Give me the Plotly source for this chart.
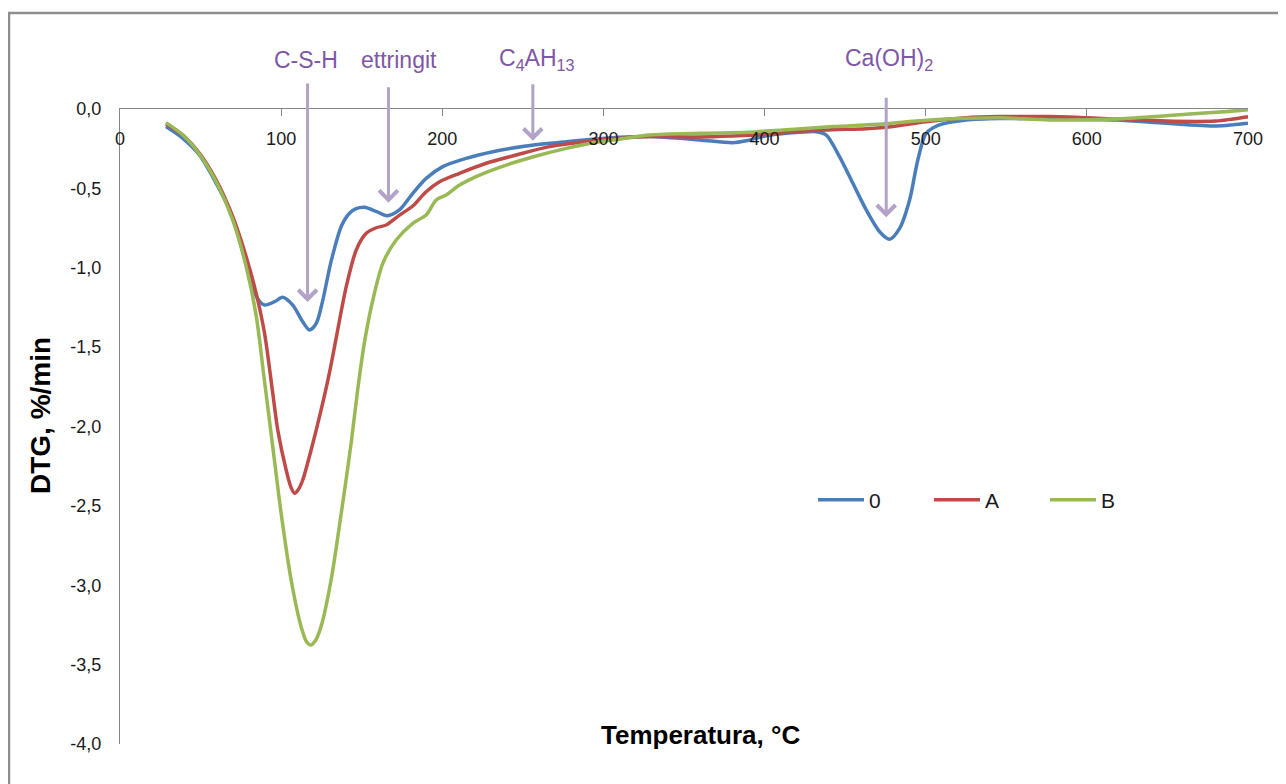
import plotly.graph_objects as go

# ---------------- data ----------------
t_0 = [28.5, 39, 49.3, 59.7, 68, 74.2, 80.4, 84.5, 89.7, 95.9, 101, 107.2, 113.4, 117.6, 121.8, 125.5,
       131, 137.3, 142.4, 146.5, 151.7, 159, 165.6, 173.4, 181.7, 190, 200.3, 214.8, 231.4, 252, 276.9,
       293.4, 310, 328.6, 359.6, 380.3, 388.6, 401, 421.7, 432, 438.3, 446.5, 454.8, 463.1, 471.4, 477.6,
       483.8, 490, 495.1, 500.3, 508.5, 525, 545.8, 576.8, 618.2, 649.2, 680.3, 690.6, 700]
v_0 = [-0.111, -0.185, -0.29, -0.468, -0.636, -0.825, -1.056, -1.18, -1.235, -1.214, -1.186, -1.235, -1.34,
       -1.392, -1.35, -1.22, -0.96, -0.74, -0.657, -0.628, -0.619, -0.645, -0.672, -0.636, -0.531, -0.437,
       -0.363, -0.311, -0.269, -0.233, -0.206, -0.191, -0.178, -0.174, -0.195, -0.212, -0.2, -0.168, -0.147,
       -0.143, -0.164, -0.3, -0.468, -0.636, -0.773, -0.82, -0.752, -0.573, -0.321, -0.153, -0.1, -0.069,
       -0.06, -0.063, -0.069, -0.09, -0.107, -0.1, -0.09]

t_A = [28.5, 39, 49.3, 59.7, 70, 78.3, 84.5, 89.7, 94.8, 97.9, 103.1, 106, 108.3, 110.5, 113.4, 118.6,
       123.8, 130, 134.2, 140.4, 146.6, 152.8, 159, 165.2, 173.5, 181.7, 190, 198.3, 210.7, 227.3, 245.9,
       266.5, 293.4, 310, 328.6, 359.6, 380, 401, 421.7, 442, 463, 480, 500, 525, 545.8, 577, 618, 649,
       680, 690.6, 700]
v_A = [-0.094, -0.164, -0.279, -0.447, -0.678, -0.93, -1.161, -1.413, -1.79, -2.022, -2.274, -2.38, -2.42,
       -2.4, -2.337, -2.148, -1.938, -1.66, -1.44, -1.119, -0.888, -0.783, -0.748, -0.731, -0.668, -0.611,
       -0.521, -0.458, -0.405, -0.342, -0.29, -0.237, -0.2, -0.185, -0.174, -0.176, -0.17, -0.16, -0.14,
       -0.13, -0.124, -0.11, -0.08, -0.055, -0.048, -0.048, -0.063, -0.076, -0.076, -0.063, -0.048]

t_B = [28.5, 39, 49.3, 59.7, 70, 78.3, 84.5, 89.5, 94.8, 100, 106.2, 112.4, 116, 118.6, 121.5, 124.9, 131,
       137.3, 143.5, 147.6, 151.7, 156.9, 163.1, 171.4, 181.7, 190, 196.2, 202.4, 210.7, 223.1, 239.7,
       258.3, 276.9, 293.4, 310, 328.6, 359.6, 390, 411.3, 442.3, 473.4, 494, 525, 546, 577, 618, 649,
       680, 700]
v_B = [-0.086, -0.164, -0.285, -0.458, -0.7, -0.993, -1.3, -1.7, -2.127, -2.547, -2.967, -3.261, -3.36,
       -3.376, -3.345, -3.255, -2.967, -2.547, -2.1, -1.76, -1.47, -1.203, -0.972, -0.825, -0.72, -0.668,
       -0.573, -0.542, -0.479, -0.416, -0.353, -0.296, -0.248, -0.212, -0.19, -0.164, -0.153, -0.147,
       -0.132, -0.111, -0.094, -0.076, -0.059, -0.055, -0.069, -0.063, -0.042, -0.021, -0.004]

series_names = ["0", "A", "B"]
series_colors = ["#4A7EBB", "#BE4B48", "#98B954"]

x_ticks = [0, 100, 200, 300, 400, 500, 600, 700]
y_ticks = [0.0, -0.5, -1.0, -1.5, -2.0, -2.5, -3.0, -3.5, -4.0]
y_tick_text = ["0,0", "-0,5", "-1,0", "-1,5", "-2,0", "-2,5", "-3,0", "-3,5", "-4,0"]

# annotation arrows: label, x of arrow, y of arrow tip, tail offset (px)
arrow_labels = ["C-S-H", "ettringit", "C<sub>4</sub>AH<sub>13</sub>", "Ca(OH)<sub>2</sub>"]
arrow_x = [116.4, 166.6, 256.2, 475.5]
arrow_tip = [-1.216, -0.59, -0.2, -0.682]
arrow_tail_px = [-220, -117, -58, -121]
label_x = [115.5, 173, 258.5, 477.5]

# ---------------- figure ----------------
W, H = 1286, 784
OFF = 8  # page body margin
PL, PT, PW, PH = 120, 109, 1128, 635  # plot area in screenshot pixels
ML, MT = PL - OFF, PT - OFF
MR, MB = W - ML - PW, H - MT - PH


def px_x(p):
    return (p - PL) / PW


def px_y(p):
    return (PT + PH - p) / PH


fig = go.Figure()
for t, v, n, c in zip([t_0, t_A, t_B], [v_0, v_A, v_B], series_names, series_colors):
    fig.add_trace(go.Scatter(x=t, y=v, name=n, mode="lines",
                             line=dict(color=c, width=3.5, shape="spline", smoothing=0.8)))
# helper trace so the label-carrying x axis (x2) exists
fig.add_trace(go.Scatter(x=[], y=[], xaxis="x2", yaxis="y", showlegend=False, hoverinfo="skip"))

axis_col = "#868686"
fig.update_layout(
    width=W, height=H,
    margin=dict(l=ML, r=MR, t=MT, b=MB, autoexpand=False),
    paper_bgcolor="white", plot_bgcolor="white",
    font=dict(family="Liberation Sans, Arial, sans-serif", size=18, color="#1a1a1a"),
    showlegend=True,
    legend=dict(orientation="h", x=px_x(813), y=px_y(500), xanchor="left", yanchor="middle",
                font=dict(size=21, color="#1a1a1a"), entrywidth=55, entrywidthmode="pixels",
                itemwidth=46, bgcolor="rgba(0,0,0,0)"),
    xaxis=dict(range=[0, 700], side="top", tickvals=x_ticks, showticklabels=False,
               ticks="inside", ticklen=7, tickcolor=axis_col, showline=True, linecolor=axis_col,
               linewidth=1.3, showgrid=False, zeroline=False),
    xaxis2=dict(range=[0, 700], overlaying="x", anchor="free", position=px_y(149), side="top",
                tickvals=x_ticks, ticks="", showline=False, showgrid=False, zeroline=False,
                tickfont=dict(size=18, color="#1a1a1a")),
    yaxis=dict(range=[-4, 0], tickvals=y_ticks, ticktext=y_tick_text, ticks="", showline=True,
               linecolor=axis_col, linewidth=1.3, showgrid=False, zeroline=False,
               tickfont=dict(size=18), ticklabelstandoff=14),
)

# axis titles
fig.add_annotation(text="<b>Temperatura, °C</b>", xref="paper", yref="paper", x=px_x(700), y=px_y(735),
                   showarrow=False, font=dict(size=26, color="#000000"), xanchor="center", yanchor="middle")
fig.add_annotation(text="<b>DTG, %/min</b>", xref="paper", yref="paper", x=px_x(40), y=px_y(416),
                   showarrow=False, textangle=-90, font=dict(size=28, color="#000000"),
                   xanchor="center", yanchor="middle")

# arrows and labels
for lab, ax_, tip, tail, lx in zip(arrow_labels, arrow_x, arrow_tip, arrow_tail_px, label_x):
    fig.add_annotation(x=ax_, y=tip, xref="x", yref="y", ax=0, ay=tail, showarrow=True,
                       arrowhead=4, arrowsize=1.2, arrowwidth=3, arrowcolor="#B3A2C7", text="")
    fig.add_annotation(text=lab, x=lx, xref="x", y=px_y(60), yref="paper", showarrow=False,
                       font=dict(size=23, color="#7E57A6"), xanchor="center", yanchor="middle")

# outer chart border (only top/left visible)
fig.add_shape(type="rect", xref="paper", yref="paper", x0=px_x(9), y0=px_y(800), x1=px_x(1300),
              y1=px_y(13), line=dict(color="#8E8E8E", width=2.5), layer="below")

fig.write_html("out.html")
